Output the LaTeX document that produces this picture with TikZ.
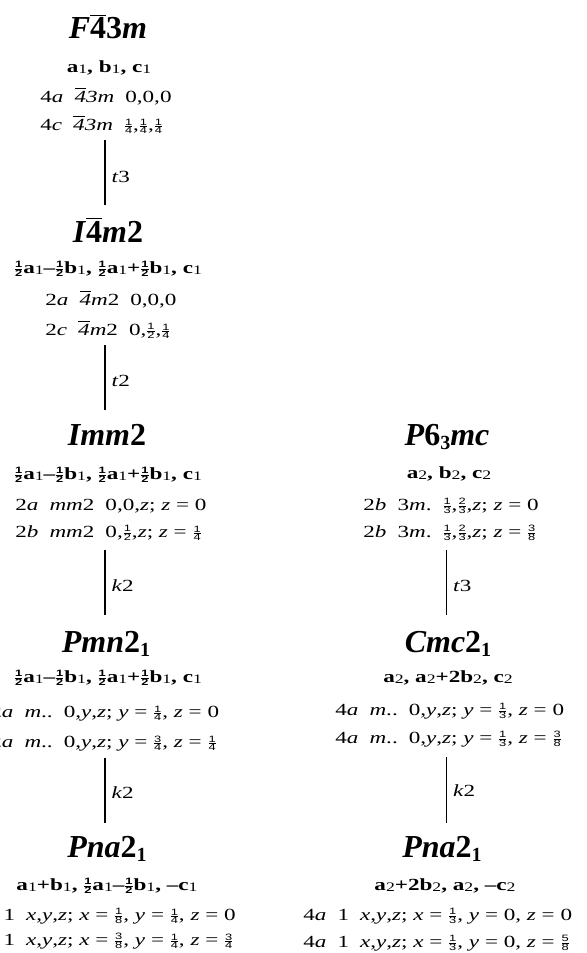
\documentclass[tikz,border=0pt]{standalone}
\usepackage{fontspec}
\setmainfont{Liberation Serif}
\newfontfamily\bodyfont{Liberation Serif}[FakeStretch=1.36]
\newfontfamily\fracfont{Liberation Sans}[FakeStretch=1.4]
\newcommand\ffr{\fracfont\fontsize{4.6}{5}\selectfont}
\newcommand\xfr[2]{\ensuremath{\kern0.5pt\vcenter{\offinterlineskip\halign{\hfil##\hfil\cr\ffr #1\cr\noalign{\kern0.35pt\hrule height0.3pt\kern0.35pt}\ffr #2\cr}}\kern0.5pt}}
\newcommand\obar[1]{\ensuremath{\overline{\mbox{#1}}}}
\newcommand\tsub[1]{\raisebox{-2.2pt}{\fontsize{10}{10}\selectfont #1}}
\newcommand\sbx[1]{\raisebox{-0.6pt}{\mdseries\fontsize{6.5}{7}\selectfont #1}}
\newcommand\gap{\hspace{5.5pt}}
\tikzset{
  ttl/.style={inner sep=0pt, anchor=base, text height=11pt, font=\fontsize{16}{18}\selectfont\bfseries},
  bas/.style={inner sep=0pt, anchor=base, text depth=2pt, font=\bodyfont\fontsize{8.5}{10}\selectfont\bfseries},
  row/.style={inner sep=0pt, anchor=base west, text depth=2pt, font=\bodyfont\fontsize{8.5}{10}\selectfont},
  conn/.style={line width=0.6pt},
  lab/.style={midway, anchor=west, inner sep=0pt, xshift=3pt, font=\bodyfont\fontsize{8.5}{10}\selectfont}
}
\begin{document}
\begin{tikzpicture}[x=0.5pt,y=-0.5pt]
\useasboundingbox (0,0) rectangle (586,953);
\coordinate (cl) at (105,0);
\coordinate (cr) at (446.5,0);
% left column
\node[ttl] (Ft) at (108,39) {\textit{F}\obar{4}3\textit{m}};
\node[bas] (Fb) at (109,72) {a\sbx1, b\sbx1, c\sbx1};
\node[row] (Fr1) at (40,102) {4\textit{a}\gap\textit{\obar{4}3m}\gap 0,0,0};
\node[row] (Fr2) at (40,130) {4\textit{c}\gap\textit{\obar{4}3m}\gap \xfr14,\xfr14,\xfr14};

\node[ttl] (It) at (108,242) {\textit{I}\obar{4}\textit{m}2};
\node[bas] (Ib) at (108,273) {\xfr12a\sbx1–\xfr12b\sbx1, \xfr12a\sbx1+\xfr12b\sbx1, c\sbx1};
\node[row] (Ir1) at (45,305) {2\textit{a}\gap\textit{\obar{4}m}2\gap 0,0,0};
\node[row] (Ir2) at (45,335) {2\textit{c}\gap\textit{\obar{4}m}2\gap 0,\xfr12,\xfr14};

\node[ttl] (Mt) at (107,445) {\textit{Imm}2};
\node[bas] (Mb) at (108,479) {\xfr12a\sbx1–\xfr12b\sbx1, \xfr12a\sbx1+\xfr12b\sbx1, c\sbx1};
\node[row] (Mr1) at (15,510) {2\textit{a}\gap\textit{mm}2\gap 0,0,\textit{z}; \textit{z} = 0};
\node[row] (Mr2) at (15,537) {2\textit{b}\gap\textit{mm}2\gap 0,\xfr12,\textit{z}; \textit{z} = \xfr14};

\node[ttl] (Pt) at (106,652) {\textit{Pmn}2\tsub{1}};
\node[bas] (Pb) at (108,682) {\xfr12a\sbx1–\xfr12b\sbx1, \xfr12a\sbx1+\xfr12b\sbx1, c\sbx1};
\node[row] (Pr1) at (-10,717) {2\textit{a}\gap\textit{m}..\gap 0,\textit{y},\textit{z}; \textit{y} = \xfr14, \textit{z} = 0};
\node[row] (Pr2) at (-10,747) {2\textit{a}\gap\textit{m}..\gap 0,\textit{y},\textit{z}; \textit{y} = \xfr34, \textit{z} = \xfr14};

\node[ttl] (Qt) at (107,857) {\textit{Pna}2\tsub{1}};
\node[bas] (Qb) at (107,890) {a\sbx1+b\sbx1, \xfr12a\sbx1–\xfr12b\sbx1, –c\sbx1};
\node[row] (Qr1) at (-31,920) {4\textit{a}\gap 1\gap\textit{x},\textit{y},\textit{z}; \textit{x} = \xfr18, \textit{y} = \xfr14, \textit{z} = 0};
\node[row] (Qr2) at (-31,945) {4\textit{a}\gap 1\gap\textit{x},\textit{y},\textit{z}; \textit{x} = \xfr38, \textit{y} = \xfr14, \textit{z} = \xfr34};

% right column
\node[ttl] (Ht) at (447,445) {\textit{P}6\tsub{3}\textit{mc}};
\node[bas] (Hb) at (449,478) {a\sbx2, b\sbx2, c\sbx2};
\node[row] (Hr1) at (363,510) {2\textit{b}\gap 3\textit{m}.\gap \xfr13,\xfr23,\textit{z}; \textit{z} = 0};
\node[row] (Hr2) at (363,537) {2\textit{b}\gap 3\textit{m}.\gap \xfr13,\xfr23,\textit{z}; \textit{z} = \xfr38};

\node[ttl] (Ct) at (448,652) {\textit{Cmc}2\tsub{1}};
\node[bas] (Cb) at (448,682) {a\sbx2, a\sbx2+2b\sbx2, c\sbx2};
\node[row] (Cr1) at (335,715) {4\textit{a}\gap\textit{m}..\gap 0,\textit{y},\textit{z}; \textit{y} = \xfr13, \textit{z} = 0};
\node[row] (Cr2) at (335,743) {4\textit{a}\gap\textit{m}..\gap 0,\textit{y},\textit{z}; \textit{y} = \xfr13, \textit{z} = \xfr38};

\node[ttl] (Rt) at (442,857) {\textit{Pna}2\tsub{1}};
\node[bas] (Rb) at (445,890) {a\sbx2+2b\sbx2, a\sbx2, –c\sbx2};
\node[row] (Rr1) at (303,920) {4\textit{a}\gap 1\gap\textit{x},\textit{y},\textit{z}; \textit{x} = \xfr13, \textit{y} = 0, \textit{z} = 0};
\node[row] (Rr2) at (303,947) {4\textit{a}\gap 1\gap\textit{x},\textit{y},\textit{z}; \textit{x} = \xfr13, \textit{y} = 0, \textit{z} = \xfr58};

% connectors
\draw[conn, shorten <=3pt, shorten >=7.5pt] (Fr2.south -| cl) -- node[lab]{\textit{t}3} (It.north -| cl);
\draw[conn, shorten <=3pt, shorten >=6.5pt] (Ir2.south -| cl) -- node[lab]{\textit{t}2} (Mt.north -| cl);
\draw[conn, shorten <=4.5pt, shorten >=7.5pt] (Mr2.south -| cl) -- node[lab]{\textit{k}2} (Pt.north -| cl);
\draw[conn, shorten <=3.5pt, shorten >=6pt] (Pr2.south -| cl) -- node[lab]{\textit{k}2} (Qt.north -| cl);
\draw[conn, shorten <=4.5pt, shorten >=7.5pt] (Hr2.south -| cr) -- node[lab]{\textit{t}3} (Ct.north -| cr);
\draw[conn, shorten <=5pt, shorten >=6pt] (Cr2.south -| cr) -- node[lab]{\textit{k}2} (Rt.north -| cr);
\end{tikzpicture}
\end{document}
